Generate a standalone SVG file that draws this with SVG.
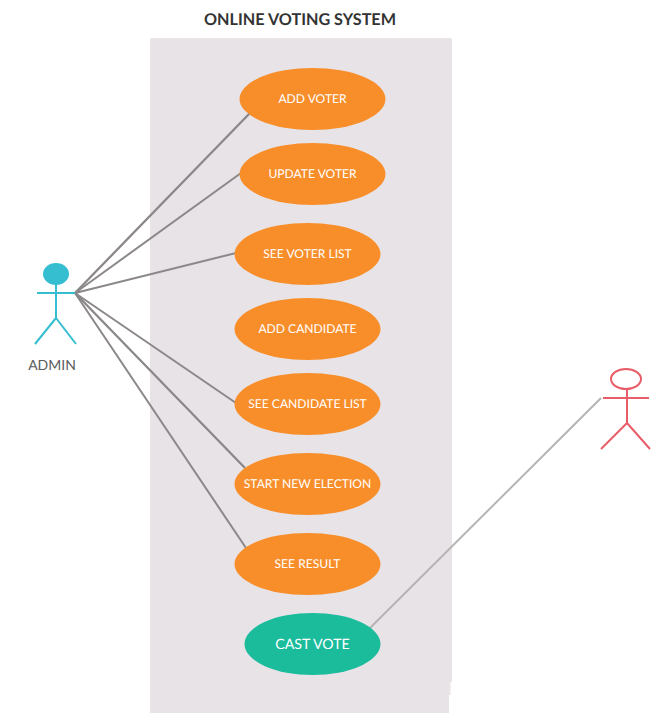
<svg xmlns="http://www.w3.org/2000/svg" width="660" height="713" viewBox="0 0 660 713">
<style>
text{font-family:Lato,"Liberation Sans",sans-serif;text-anchor:middle;text-rendering:geometricPrecision}
.u{fill:#f88e2a}
.l{fill:#fff;font-size:12.1px}
.c{stroke:#8c8889;stroke-width:2;fill:none}
.h{stroke:#8c8889;stroke-width:2.3;fill:none}
.a{stroke:#35bdd0;stroke-width:2;fill:none}
.r{stroke:#e95d69;stroke-width:2;fill:none}
</style>
<rect width="660" height="713" fill="#fff"/>
<path d="M152 38H450a2 2 0 0 1 2 2V682H450.500V695H449V713H150V40a2 2 0 0 1 2-2Z" fill="#e8e3e7"/>
<text x="300" y="25" font-size="16.200" font-weight="700" fill="#333">ONLINE VOTING SYSTEM</text>
<g id="connectors">
<path class="h" d="M75 293L250 113M75 293L245 468"/>
<path class="c" d="M75 293L241 173M75 293L236 253M75 293L236 403M75 293L246 548"/>
<path d="M370 628L601 398" stroke="#b5b3b4" stroke-width="2" fill="none"/>
</g>
<g id="admin">
<ellipse cx="56" cy="274" rx="13" ry="11" fill="#35bdd0"/>
<path class="a" d="M56 285V318M37 293H75M56 318L35 344M56 318L76 344"/>
<text x="52" y="370" font-size="14" fill="#5b5b5b">ADMIN</text>
</g>
<g id="voter">
<ellipse class="r" cx="626" cy="379" rx="15" ry="10" />
<path class="r" d="M627 389V423M603 398H649M627 423L601 449M627 423L650 449"/>
</g>
<g id="add-voter"><ellipse class="u" cx="312.500" cy="99" rx="73" ry="31"/><text class="l" x="312.500" y="103">ADD VOTER</text></g>
<g id="update-voter"><ellipse class="u" cx="312.500" cy="174" rx="73" ry="31"/><text class="l" x="312.500" y="178">UPDATE VOTER</text></g>
<g id="see-voter-list"><ellipse class="u" cx="307.500" cy="254" rx="73" ry="31"/><text class="l" x="307.500" y="258">SEE VOTER LIST</text></g>
<g id="add-candidate"><ellipse class="u" cx="307.500" cy="329" rx="73" ry="31"/><text class="l" x="307.500" y="333">ADD CANDIDATE</text></g>
<g id="see-candidate-list"><ellipse class="u" cx="307.500" cy="404" rx="73" ry="31"/><text class="l" x="307.500" y="408">SEE CANDIDATE LIST</text></g>
<g id="start-new-election"><ellipse class="u" cx="307.500" cy="484" rx="73" ry="31"/><text class="l" x="307.500" y="488">START NEW ELECTION</text></g>
<g id="see-result"><ellipse class="u" cx="307.500" cy="564" rx="73" ry="31"/><text class="l" x="307.500" y="568">SEE RESULT</text></g>
<g id="cast-vote"><ellipse cx="312.500" cy="644" rx="68" ry="31" fill="#1abc9c"/><text x="312.500" y="649" font-size="14.200" fill="#fff">CAST VOTE</text></g>
</svg>
